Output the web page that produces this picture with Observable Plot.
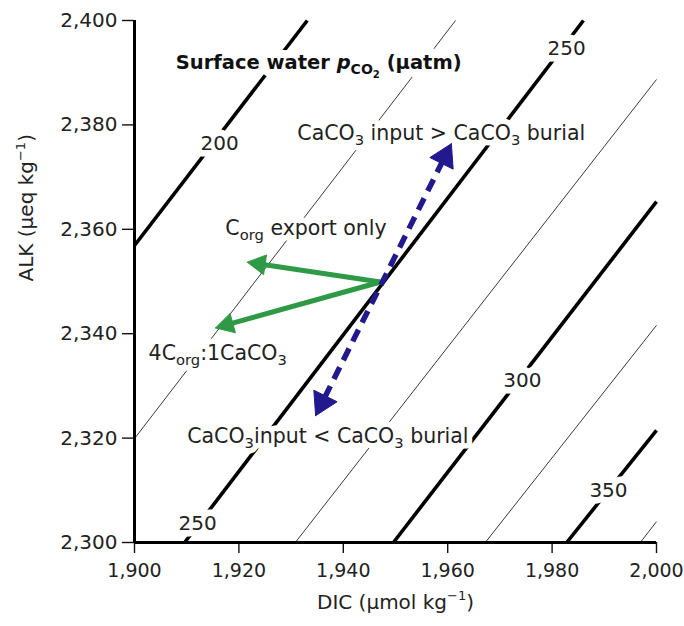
<!DOCTYPE html>
<html><head><meta charset="utf-8">
<script src="https://cdn.jsdelivr.net/npm/d3@7"></script>
<script src="https://cdn.jsdelivr.net/npm/@observablehq/plot@0.6"></script>
<style>
html,body{margin:0;padding:0;background:#fff;}
#chart svg{display:block;}
</style>
</head><body><div id="chart"></div>
<script>
// ---------------- data ----------------
const xTicks = [1900, 1920, 1940, 1960, 1980, 2000];
const yTicks = [2300, 2320, 2340, 2360, 2380, 2400];

// surface-water pCO2 isolines, given by their end points on the frame
const isoPCO2  = [200, 225, 250, 275, 300, 325, 350, 375];
const isoMajor = [true, false, true, false, true, false, true, false];
const isoDIC1  = [1900, 1900, 1909.6, 1930.8, 1949.6, 1967.2, 1982.8, 1996.9];
const isoALK1  = [2356.9, 2319.9, 2300, 2300, 2300, 2300, 2300, 2300];
const isoDIC2  = [1933.1, 1961.5, 1986.0, 2000, 2000, 2000, 2000, 2000];
const isoALK2  = [2400, 2400, 2400, 2388.7, 2365.3, 2341.6, 2321.5, 2304.0];

// isoline labels
const isoLabel    = ["200", "250", "250", "300", "350"];
const isoLabelDIC = [1916.3, 1982.8, 1912.1, 1974.3, 1990.8];
const isoLabelALK = [2376.4, 2394.6, 2303.6, 2331.0, 2310.0];

// annotations (_{..} subscript, ^{..} superscript, ~{..} italic)
const noteText = ["CaCO_{3} input > CaCO_{3} burial", "C_{org} export only", "4C_{org}:1CaCO_{3}", "CaCO_{3}input < CaCO_{3} burial"];
const noteDIC  = [1931.2, 1917.4, 1902.7, 1910.1];
const noteALK  = [2378.4, 2360.2, 2336.3, 2320.4];

const titleText = "Surface water ~{p}_{CO_{2}} (μatm)";
const titleDIC = [1907.9];
const titleALK = [2392.0];

// process vectors
const arrowName      = ["Corg export only", "4Corg:1CaCO3", "CaCO3 input vs burial"];
const arrowFromDIC   = [1947.1, 1947.1, 1934.7];
const arrowFromALK   = [2349.9, 2349.9, 2324.3];
const arrowToDIC     = [1921.6, 1915.5, 1960.7];
const arrowToALK     = [2353.7, 2341.1, 2376.4];
const arrowTwoHeaded = [false, false, true];

const xLabel = "DIC (μmol kg^{−1})";
const yLabel = "ALK (μeq kg^{−1})";

// ---------------- layout & style ----------------
const W = 684, H = 626, mL = 134, mR = 28, mT = 20, mB = 84;
const xDom = [1900, 2000], yDom = [2300, 2400];
const kx = (W - mL - mR) / (xDom[1] - xDom[0]);
const ky = (H - mT - mB) / (yDom[1] - yDom[0]);
const GREEN = "#2f9a45", BLUE = "#23198f";
const arrowStyle = [
  {color: GREEN, width: 5, dash: null, hl: 18, hw: 10},
  {color: GREEN, width: 5, dash: null, hl: 18, hw: 10},
  {color: BLUE, width: 5.5, dash: "13,8", hl: 22, hw: 13}
];
const FONT = "'DejaVu Sans', sans-serif";

// ---------------- derived tables ----------------
const iso = isoPCO2.map((p, i) => ({p, major: isoMajor[i], x1: isoDIC1[i], y1: isoALK1[i], x2: isoDIC2[i], y2: isoALK2[i]}));
const isoLabels = isoLabel.map((t, i) => ({t, x: isoLabelDIC[i], y: isoLabelALK[i]}));
const notes = noteText.map((t, i) => ({t, x: noteDIC[i], y: noteALK[i]}));
const titles = [{t: titleText, x: titleDIC[0], y: titleALK[0]}];

function headAt(tipX, tipY, fromX, fromY, hl, hw, id) {
  const vx = (tipX - fromX) * kx, vy = -(tipY - fromY) * ky;
  const L = Math.hypot(vx, vy), ux = vx / L, uy = vy / L;
  const bx = -ux * hl, by = -uy * hl;
  const nx = -uy, ny = ux;
  const toData = (ox, oy) => [tipX + ox / kx, tipY - oy / ky];
  const ov = 2;
  const base = toData(bx + ux * ov, by + uy * ov);
  const pts = [toData(0, 0), toData(bx + nx * hw, by + ny * hw), toData(bx - nx * hw, by - ny * hw), toData(0, 0)];
  return {base, pts: pts.map(([x, y]) => ({x, y, id}))};
}

const arrowMarks = [];
arrowName.forEach((name, i) => {
  const st = arrowStyle[i];
  const heads = [];
  const h2 = headAt(arrowToDIC[i], arrowToALK[i], arrowFromDIC[i], arrowFromALK[i], st.hl, st.hw, name + "-to");
  heads.push(...h2.pts);
  let start = [arrowFromDIC[i], arrowFromALK[i]];
  if (arrowTwoHeaded[i]) {
    const h1 = headAt(arrowFromDIC[i], arrowFromALK[i], arrowToDIC[i], arrowToALK[i], st.hl, st.hw, name + "-from");
    heads.push(...h1.pts);
    start = h1.base;
  }
  arrowMarks.push(Plot.link([{x1: start[0], y1: start[1], x2: h2.base[0], y2: h2.base[1]}], {
    x1: "x1", y1: "y1", x2: "x2", y2: "y2", stroke: st.color, strokeWidth: st.width,
    strokeDasharray: st.dash, strokeLinecap: "butt"
  }));
  arrowMarks.push(Plot.line(heads, {x: "x", y: "y", z: "id", fill: st.color, stroke: st.color, strokeWidth: 1, curve: "linear"}));
});

// text drawn twice: a white knock-out halo first, then the ink on top
function haloText(data, opts, halo) {
  return [
    Plot.text(data, {...opts, fill: "white", stroke: "white", strokeWidth: halo, strokeLinejoin: "round"}),
    Plot.text(data, opts)
  ];
}

const plot = Plot.plot({
  width: W, height: H, marginLeft: mL, marginRight: mR, marginTop: mT, marginBottom: mB,
  x: {domain: xDom}, y: {domain: yDom},
  style: {fontFamily: FONT, fontSize: "20px", color: "#222", background: "white"},
  marks: [
    Plot.link(iso.filter(d => !d.major), {x1: "x1", y1: "y1", x2: "x2", y2: "y2", stroke: "#222", strokeWidth: 0.9}),
    Plot.link(iso.filter(d => d.major), {x1: "x1", y1: "y1", x2: "x2", y2: "y2", stroke: "#000", strokeWidth: 3.6}),
    ...haloText(isoLabels, {x: "x", y: "y", text: "t", fontSize: 20, fill: "#222"}, 13),
    ...haloText(notes, {x: "x", y: "y", text: "t", textAnchor: "start", fontSize: 20.5, fill: "#222"}, 11),
    ...haloText(titles, {x: "x", y: "y", text: "t", textAnchor: "start", fontSize: 19.5, fontWeight: "bold", fill: "#111"}, 16),
    ...arrowMarks,
    Plot.text([xLabel], {frameAnchor: "bottom", text: d => d, dy: 66, fontSize: 20, fill: "#222"}),
    Plot.text([yLabel], {frameAnchor: "left", text: d => d, dx: -108, rotate: -90, fontSize: 20, fill: "#222"}),
    Plot.axisX({ticks: xTicks, tickFormat: d3.format(","), tickSize: 11, tickPadding: 10, fontSize: 19, label: null, strokeWidth: 1.4, stroke: "#111"}),
    Plot.axisY({ticks: yTicks, tickFormat: d3.format(","), tickSize: 12, tickPadding: 5, fontSize: 20, label: null, strokeWidth: 1.4, stroke: "#111"}),
    Plot.ruleX([xDom[0]], {stroke: "#000", strokeWidth: 3}),
    Plot.ruleY([yDom[0]], {stroke: "#000", strokeWidth: 3})
  ]
});
document.getElementById("chart").appendChild(plot);

// ---------------- rich text (sub/superscripts, italics) ----------------
function parseRich(s) {
  const out = [];
  function rec(str, pos, scale, shift, italic) {
    let buf = "";
    const flush = () => { if (buf) out.push({text: buf, scale, shift, italic}); buf = ""; };
    while (pos < str.length) {
      const c = str[pos];
      if ((c === "_" || c === "^" || c === "~") && str[pos + 1] === "{") {
        flush();
        let ns = scale, nsh = shift, ni = italic;
        if (c === "_") { ns = scale * 0.72; nsh = shift + 0.27 * scale; }
        else if (c === "^") { ns = scale * 0.65; nsh = shift - 0.42 * scale; }
        else ni = true;
        pos = rec(str, pos + 2, ns, nsh, ni);
      } else if (c === "}") { flush(); return pos + 1; }
      else { buf += c; pos++; }
    }
    flush();
    return pos;
  }
  rec(s, 0, 1, 0, false);
  return out;
}
const NS = "http://www.w3.org/2000/svg";
plot.querySelectorAll("text").forEach(el => {
  const s = el.textContent;
  if (!/[_^~]\{/.test(s)) return;
  const base = parseFloat(getComputedStyle(el).fontSize);
  const segs = parseRich(s);
  el.textContent = "";
  let cur = 0;
  for (const seg of segs) {
    const t = document.createElementNS(NS, "tspan");
    t.textContent = seg.text;
    if (seg.scale !== 1) t.setAttribute("font-size", (base * seg.scale).toFixed(2) + "px");
    const d = (seg.shift - cur) * base;
    if (Math.abs(d) > 1e-6) t.setAttribute("dy", d.toFixed(2));
    if (seg.italic) t.setAttribute("font-style", "italic");
    cur = seg.shift;
    el.appendChild(t);
  }
});
</script>
</body></html>
